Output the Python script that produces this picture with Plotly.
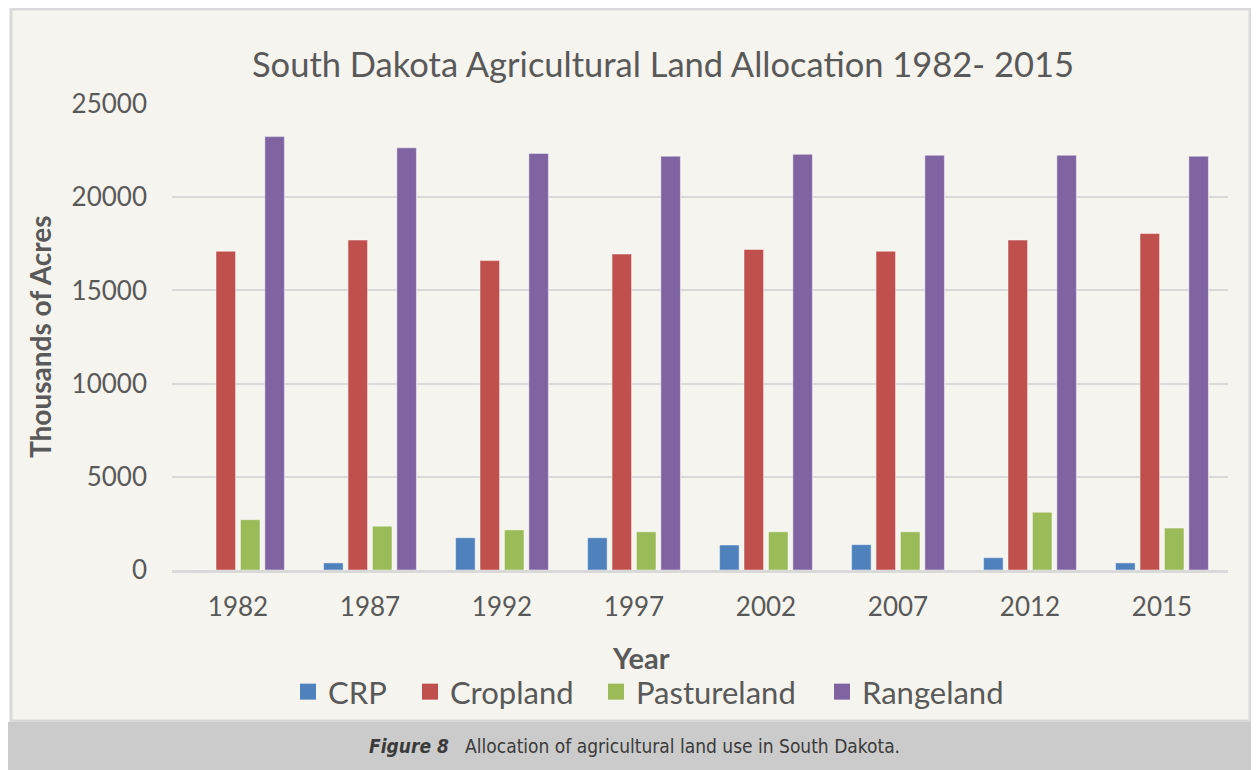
import plotly.graph_objects as go

years = ["1982", "1987", "1992", "1997", "2002", "2007", "2012", "2015"]
crp = [0, 380, 1730, 1730, 1340, 1360, 660, 380]
cropland = [17100, 17700, 16600, 16950, 17200, 17100, 17700, 18050]
pastureland = [2700, 2350, 2150, 2050, 2050, 2050, 3100, 2250]
rangeland = [23250, 22650, 22350, 22200, 22300, 22250, 22250, 22200]

series = [
    ("CRP", crp, "#4f81bd"),
    ("Cropland", cropland, "#c0504d"),
    ("Pastureland", pastureland, "#9bbb59"),
    ("Rangeland", rangeland, "#8064a2"),
]

W, H = 1259, 770
OFF = 8  # page body margin, positions below are in screen pixels
L, R, T, B = 172 - OFF, 31 + OFF, 104 - OFF, 200 + OFF
pw, ph = W - L - R, H - T - B


def px(x):
    return (x - OFF - L) / pw


def py(y):
    return (H - B - (y - OFF)) / ph


font = "Lato"
grey = "#595959"

# legend icon centres (screen px) for each series
legend_x = [313, 435, 621, 847]

fig = go.Figure()
legends = {}
for i, (name, vals, col) in enumerate(series):
    lg = "legend" if i == 0 else "legend%d" % (i + 1)
    fig.add_trace(go.Bar(
        x=years, y=vals, name=name, showlegend=False,
        marker=dict(color=col, line=dict(color="rgba(255,255,255,0.45)", width=1)),
    ))
    # legend entry with a larger square swatch
    fig.add_trace(go.Scatter(
        x=[None], y=[None], name=name, mode="markers", legend=lg,
        marker=dict(symbol="square", size=18, color=col),
    ))
    legends[lg] = dict(
        orientation="h", xref="paper", yref="paper",
        x=px(legend_x[i] - 25), xanchor="left", y=py(692), yanchor="middle",
        font=dict(family=font, size=31, color=grey), bgcolor="rgba(0,0,0,0)",
        itemsizing="trace",
    )

shapes = [
    # chart frame
    dict(type="rect", xref="paper", yref="paper", layer="below",
         x0=px(11), x1=px(1250), y0=py(721), y1=py(9),
         fillcolor="#f5f4ee", line=dict(color="#d9d9d9", width=3)),
    # caption band
    dict(type="rect", xref="paper", yref="paper", layer="below",
         x0=px(7), x1=px(1275), y0=py(790), y1=py(722),
         fillcolor="#cbcbcb", line=dict(width=0)),
]

annotations = [
    dict(text="<b>Thousands of Acres</b>", xref="paper", yref="paper",
         x=px(40), y=py(337), xanchor="center", yanchor="middle",
         textangle=-90, showarrow=False,
         font=dict(family=font, size=28, color=grey)),
    dict(text="<b>Year</b>", xref="paper", yref="paper",
         x=px(641), y=py(657), xanchor="center", yanchor="middle", showarrow=False,
         font=dict(family=font, size=29, color=grey)),
    dict(text="<b><i>Figure 8</i></b>   Allocation of agricultural land use in South Dakota.",
         xref="paper", yref="paper", x=px(634), y=py(746),
         xanchor="center", yanchor="middle", showarrow=False,
         font=dict(family="DejaVu Sans Condensed, Noto Sans", size=19, color="#3a3a3a")),
]

fig.update_layout(
    width=W, height=H,
    margin=dict(l=L, r=R, t=T, b=B),
    paper_bgcolor="white",
    plot_bgcolor="rgba(0,0,0,0)",
    title=dict(text="South Dakota Agricultural Land Allocation 1982- 2015",
               x=px(663), xref="paper", xanchor="center",
               y=1 - (65 - OFF) / H, yref="container", yanchor="middle",
               font=dict(family=font, size=34.5, color=grey)),
    barmode="group", bargap=0.26, bargroupgap=0.2,
    xaxis=dict(tickfont=dict(family=font, size=26, color=grey), ticklabelstandoff=12,
               showgrid=False, ticks="", showline=True, linecolor="#d9d9d9", linewidth=3),
    yaxis=dict(range=[0, 25000], dtick=5000, tickformat="d",
               tickfont=dict(family=font, size=26, color=grey),
               showgrid=True, gridcolor="#d9d9d9", gridwidth=2, zeroline=False,
               ticks="", ticklabelstandoff=24, showline=False),
    shapes=shapes,
    annotations=annotations,
    **legends,
)

fig.write_html("out.html")
